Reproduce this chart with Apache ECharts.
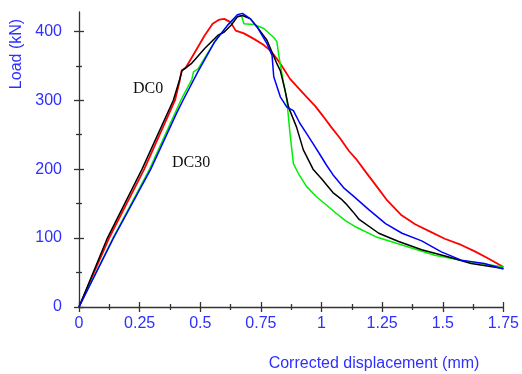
<!DOCTYPE html>
<html>
<head>
<meta charset="utf-8">
<script src="https://cdn.jsdelivr.net/npm/echarts@6/dist/echarts.min.js"></script>
<style>
  html, body { margin: 0; padding: 0; background: #fff; }
  #chart { width: 522px; height: 374px; }
</style>
</head>
<body>
<div id="chart"></div>
<script>
// tick positions
const xMajor = [0, 0.25, 0.5, 0.75, 1, 1.25, 1.5, 1.75];
const xMinor = [0.125, 0.375, 0.625, 0.875, 1.125, 1.375, 1.625];
const yMajor = [0, 100, 200, 300, 400];
const yMinor = [50, 150, 250, 350];

// curves: [displacement (mm), load (kN)]
const redCurve = [
  [0, 0], [0.124, 100], [0.269, 200], [0.396, 300], [0.415, 328], [0.423, 343],
  [0.44, 347], [0.47, 365], [0.518, 394], [0.551, 411], [0.579, 417], [0.599, 418],
  [0.626, 413], [0.646, 401], [0.68, 397], [0.721, 389], [0.762, 380], [0.789, 372],
  [0.816, 360], [0.843, 346], [0.87, 331], [0.904, 318], [0.938, 305], [0.975, 291],
  [1.006, 277], [1.04, 261], [1.074, 246], [1.114, 226], [1.142, 215], [1.182, 196],
  [1.236, 171], [1.27, 155], [1.33, 133], [1.386, 120], [1.45, 109], [1.508, 99],
  [1.576, 90], [1.63, 81], [1.684, 71], [1.75, 58]
];
const greenCurve = [
  [0, 0], [0.14, 100], [0.291, 200], [0.42, 300], [0.465, 330], [0.472, 341],
  [0.49, 345], [0.558, 384], [0.613, 409], [0.653, 421], [0.67, 423], [0.68, 411],
  [0.721, 410], [0.762, 404], [0.803, 391], [0.816, 385], [0.823, 367], [0.843, 326],
  [0.857, 300], [0.87, 252], [0.884, 208], [0.904, 194], [0.938, 175], [0.979, 160],
  [1.02, 148], [1.06, 136], [1.1, 125], [1.142, 116], [1.223, 102], [1.332, 90],
  [1.467, 75], [1.603, 66], [1.75, 58]
];
const blackCurve = [
  [0, 0], [0.117, 100], [0.26, 200], [0.389, 300], [0.415, 330], [0.425, 343],
  [0.44, 347], [0.463, 353], [0.518, 375], [0.572, 394], [0.599, 399], [0.63, 410],
  [0.653, 421], [0.674, 423], [0.707, 418], [0.735, 406], [0.775, 387], [0.816, 353],
  [0.83, 343], [0.85, 314], [0.864, 290], [0.897, 261], [0.925, 228], [0.965, 200],
  [1.0, 186], [1.047, 166], [1.08, 157], [1.1, 150], [1.13, 138], [1.155, 127],
  [1.236, 107], [1.318, 95], [1.413, 83], [1.521, 73], [1.617, 63], [1.75, 56]
];
const blueCurve = [
  [0, 0], [0.142, 100], [0.296, 200], [0.402, 281], [0.429, 300], [0.49, 341],
  [0.558, 384], [0.613, 409], [0.653, 424], [0.674, 426], [0.707, 418], [0.735, 406],
  [0.775, 382], [0.796, 365], [0.803, 334], [0.83, 305], [0.857, 290], [0.884, 285],
  [0.91, 267], [0.938, 252], [0.965, 237], [0.992, 222], [1.02, 206], [1.047, 192],
  [1.094, 172], [1.128, 162], [1.196, 141], [1.264, 121], [1.332, 107], [1.413, 96],
  [1.494, 80], [1.576, 68], [1.671, 63], [1.75, 55]
];

const labelBlue = '#2f2fff';
const axisColor = '#333';
const font = 'Liberation Sans';

function tickAxis(kind, values, len, inside, main) {
  const isX = kind === 'x';
  return {
    type: 'value',
    position: isX ? 'bottom' : 'left',
    min: 0,
    max: isX ? 1.75 : 428,
    axisLine: { show: !!main, onZero: false, lineStyle: { color: axisColor, width: 1.3 } },
    axisTick: {
      show: true, inside: inside, length: len, customValues: values,
      lineStyle: { color: axisColor, width: 1.3 }
    },
    axisLabel: main ? {
      show: true, customValues: values, color: labelBlue,
      fontFamily: font, fontSize: 16, margin: isX ? 9 : 17
    } : { show: false },
    splitLine: { show: false }
  };
}

const chart = echarts.init(document.getElementById('chart'));

function line(data, color, width) {
  return {
    type: 'line', data: data, showSymbol: false, symbol: 'none',
    lineStyle: { color: color, width: width }, animation: false
  };
}

chart.setOption({
  animation: false,
  grid: { left: 79, right: 13, top: 12, bottom: 67 },
  xAxis: [
    tickAxis('x', xMajor, 5, false, true),
    tickAxis('x', xMajor, 5, true),
    tickAxis('x', xMinor, 3, false),
    tickAxis('x', xMinor, 3, true)
  ],
  yAxis: [
    tickAxis('y', yMajor, 5, false, true),
    tickAxis('y', yMajor, 5, true),
    tickAxis('y', yMinor, 3, false),
    tickAxis('y', yMinor, 3, true)
  ],
  series: [
    line(redCurve, '#ff0000', 1.8),
    line(greenCurve, '#00ee00', 1.5),
    line(blackCurve, '#000000', 1.5),
    line(blueCurve, '#0000ff', 1.5)
  ],
  graphic: [
    {
      type: 'text', x: 17, y: 54, rotation: Math.PI / 2,
      style: { text: 'Load (kN)', fill: labelBlue, font: '16px "Liberation Sans"',
        textAlign: 'center', textVerticalAlign: 'middle' }
    },
    {
      type: 'text', x: 374, y: 364,
      style: { text: 'Corrected displacement (mm)', fill: labelBlue, font: '16px "Liberation Sans"',
        textAlign: 'center', textVerticalAlign: 'middle' }
    },
    {
      type: 'text', x: 133, y: 89,
      style: { text: 'DC0', fill: '#111', font: '16px "Liberation Serif"', textVerticalAlign: 'middle' }
    },
    {
      type: 'text', x: 172, y: 163,
      style: { text: 'DC30', fill: '#111', font: '16px "Liberation Serif"', textVerticalAlign: 'middle' }
    }
  ]
});
</script>
</body>
</html>
